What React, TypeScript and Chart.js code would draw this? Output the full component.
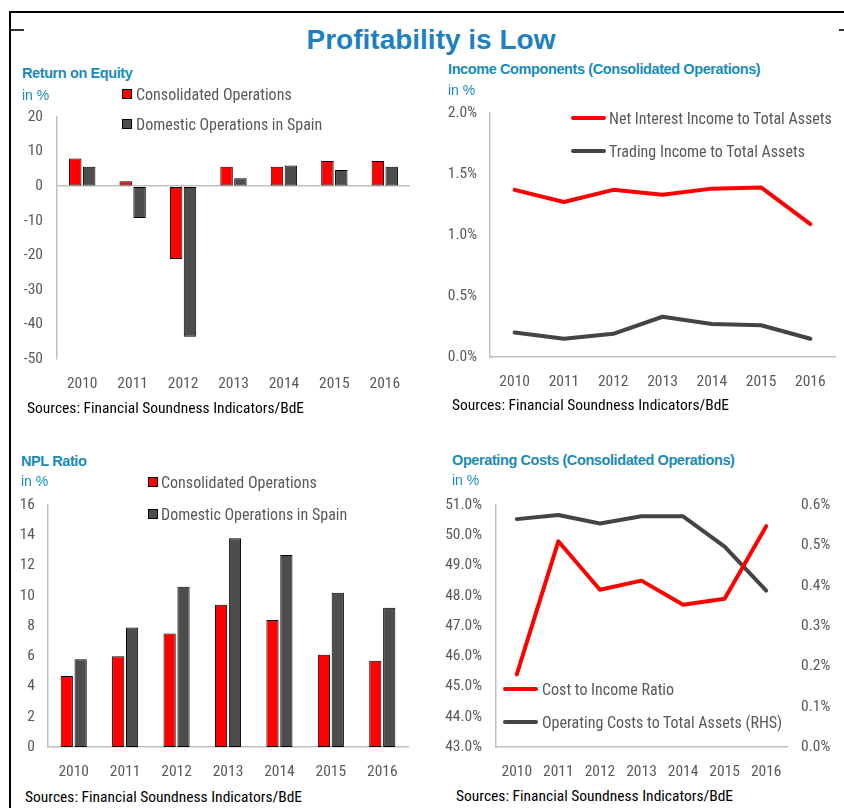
import React, { useEffect, useRef } from "react";
import { Chart, registerables } from "chart.js";

Chart.register(...registerables);

// ---------- data ----------
const years = ["2010", "2011", "2012", "2013", "2014", "2015", "2016"];

const roeConsolidated = [8.0, 1.4, -21.1, 5.6, 5.6, 7.3, 7.3];
const roeDomestic = [5.6, -9.2, -43.6, 2.3, 6.0, 4.7, 5.6];

const netInterestIncome = [1.37, 1.27, 1.37, 1.33, 1.38, 1.39, 1.09];
const tradingIncome = [0.2, 0.15, 0.19, 0.33, 0.27, 0.26, 0.15];

const nplConsolidated = [4.7, 6.0, 7.5, 9.4, 8.4, 6.1, 5.7];
const nplDomestic = [5.8, 7.9, 10.6, 13.8, 12.7, 10.2, 9.2];

const costToIncome = [45.4, 49.8, 48.2, 48.5, 47.7, 47.9, 50.3];
const opCostsToAssets = [0.565, 0.575, 0.554, 0.572, 0.572, 0.497, 0.388];

const seriesNames = {
  consolidated: "Consolidated Operations",
  domestic: "Domestic Operations in Spain",
  nii: "Net Interest Income to Total Assets",
  trading: "Trading Income to Total Assets",
  cir: "Cost to Income Ratio",
  opc: "Operating Costs to Total Assets (RHS)",
};

// ---------- styles ----------
const RED = "#FF0000";
const GRAY = "#4D4D4D";
const LINEGRAY = "#444444";
const AXIS = "#BFBFBF";
const TICK = "#595959";
const TITLE_BLUE = "#1F7FC3";
const SUB_BLUE = "#1A8BB8";
const NARROW = '"Liberation Sans Narrow", "Roboto Condensed", "Lato", sans-serif';
const SANS = '"Liberation Sans", Arial, sans-serif';

Chart.defaults.font.family = NARROW;
Chart.defaults.font.size = 15.5;
Chart.defaults.color = TICK;

type Box = { L: number; T: number; W: number; H: number; Y: number; X: number; pt: number; pr: number; R?: number };

function useChart(ref: React.RefObject<HTMLCanvasElement>, make: () => any) {
  useEffect(() => {
    if (!ref.current) return;
    const chart = new Chart(ref.current, make());
    return () => chart.destroy();
  }, []);
}

function fixW(w: number) {
  return (s: any) => {
    s.width = w;
  };
}
function fixH(h: number) {
  return (s: any) => {
    s.height = h;
  };
}

function ChartBox({ box, config }: { box: Box; config: () => any }) {
  const ref = useRef<HTMLCanvasElement>(null);
  useChart(ref, config);
  return (
    <div style={{ position: "absolute", left: box.L, top: box.T, width: box.W, height: box.H }}>
      <canvas ref={ref} width={box.W} height={box.H} style={{ display: "block" }} />
    </div>
  );
}

function Txt({ x, y, children, style }: { x: number; y: number; children: any; style?: any }) {
  return (
    <div
      style={{
        position: "absolute",
        left: x,
        top: y,
        transform: "translateY(-50%)",
        whiteSpace: "nowrap",
        lineHeight: 1,
        ...style,
      }}
    >
      {children}
    </div>
  );
}

const subTitle = { fontFamily: SANS, fontWeight: 700, fontSize: 14.5, color: SUB_BLUE, letterSpacing: -0.4 };
const inPct = { fontFamily: SANS, fontSize: 14, color: SUB_BLUE };
const legTxt = { fontFamily: NARROW, fontSize: 16, color: TICK };
const srcTxt = { fontFamily: NARROW, fontSize: 15.5, color: "#000" };

function Square({ x, y, color }: { x: number; y: number; color: string }) {
  return (
    <div
      style={{
        position: "absolute",
        left: x,
        top: y - 5,
        width: 8,
        height: 8,
        background: color,
        border: "1px solid #000",
      }}
    />
  );
}
function LineSw({ x, y, w, color }: { x: number; y: number; w: number; color: string }) {
  return (
    <div
      style={{
        position: "absolute",
        left: x,
        top: y - 2,
        width: w,
        height: 4,
        borderRadius: 2,
        background: color,
      }}
    />
  );
}

// ---------- chart configs ----------
function barConfig(box: Box, a: number[], b: number[], min: number, max: number, step: number, yPad: number, zeroLine: boolean, cp: number, bp: number) {
  return () => ({
    type: "bar",
    data: {
      labels: years,
      datasets: [
        { label: seriesNames.consolidated, data: a, backgroundColor: RED, borderColor: "#000", borderWidth: 1, borderSkipped: false, categoryPercentage: cp, barPercentage: bp },
        { label: seriesNames.domestic, data: b, backgroundColor: GRAY, borderColor: "#000", borderWidth: 1, borderSkipped: false, categoryPercentage: cp, barPercentage: bp },
      ],
    },
    options: {
      animation: false,
      responsive: false,
      layout: { padding: { top: box.pt, right: box.pr, left: 0, bottom: 0 } },
      plugins: { legend: { display: false }, tooltip: { enabled: false } },
      scales: {
        x: {
          grid: { display: false, drawTicks: false },
          border: { display: !zeroLine, color: AXIS, width: 1.5 },
          ticks: { padding: 16, color: TICK },
          afterFit: fixH(box.X),
        },
        y: {
          min,
          max,
          ticks: { stepSize: step, padding: yPad, color: TICK },
          grid: {
            display: zeroLine,
            drawTicks: false,
            lineWidth: 1.5,
            color: (ctx: any) => (ctx.tick && ctx.tick.value === 0 ? AXIS : "rgba(0,0,0,0)"),
          },
          border: { display: true, color: AXIS, width: 1.5 },
          afterFit: fixW(box.Y),
        },
      },
    },
  });
}

// chart areas: panel1 57..410 x 117..359 ; panel2 490..835 x 113..357
// panel3 48..408 x 505..747 ; panel4 496..787 x 505..747
const box1: Box = { L: 0, T: 90, W: 420, H: 310, Y: 57, X: 41, pt: 27, pr: 10 };
const box2: Box = { L: 420, T: 86, W: 424, H: 314, Y: 70, X: 43, pt: 27, pr: 9 };
const box3: Box = { L: 0, T: 478, W: 420, H: 302, Y: 48, X: 33, pt: 27, pr: 12 };
const box4: Box = { L: 420, T: 478, W: 424, H: 302, Y: 76, X: 33, pt: 27, pr: 0, R: 57 };

const cfg1 = barConfig(box1, roeConsolidated, roeDomestic, -50, 20, 10, 14, true, 0.55, 0.9);
const cfg3 = barConfig(box3, nplConsolidated, nplDomestic, 0, 16, 2, 13, false, 0.54, 0.88);

const lineDs = (label: string, data: number[], color: string, axis?: string) => ({
  label,
  data,
  borderColor: color,
  backgroundColor: color,
  borderWidth: 4,
  pointRadius: 0,
  tension: 0,
  borderJoinStyle: "round",
  borderCapStyle: "round",
  ...(axis ? { yAxisID: axis } : {}),
});

const cfg2 = () => ({
  type: "line",
  data: {
    labels: years,
    datasets: [lineDs(seriesNames.nii, netInterestIncome, RED), lineDs(seriesNames.trading, tradingIncome, LINEGRAY)],
  },
  options: {
    animation: false,
    responsive: false,
    layout: { padding: { top: box2.pt, right: box2.pr, left: 0, bottom: 0 } },
    plugins: { legend: { display: false }, tooltip: { enabled: false } },
    scales: {
      x: {
        offset: true,
        grid: { display: false, drawTicks: false, offset: true },
        border: { display: true, color: AXIS, width: 1.5 },
        ticks: { padding: 16, color: TICK },
        afterFit: fixH(box2.X),
      },
      y: {
        min: 0,
        max: 2,
        ticks: { stepSize: 0.5, padding: 13, color: TICK, callback: (v: any) => Number(v).toFixed(1) + "%" },
        grid: { display: false, drawTicks: false },
        border: { display: true, color: AXIS, width: 1.5 },
        afterFit: fixW(box2.Y),
      },
    },
  },
});

const cfg4 = () => ({
  type: "line",
  data: {
    labels: years,
    datasets: [lineDs(seriesNames.cir, costToIncome, RED, "y"), lineDs(seriesNames.opc, opCostsToAssets, LINEGRAY, "y1")],
  },
  options: {
    animation: false,
    responsive: false,
    layout: { padding: { top: box4.pt, right: box4.pr, left: 0, bottom: 0 } },
    plugins: { legend: { display: false }, tooltip: { enabled: false } },
    scales: {
      x: {
        offset: true,
        grid: { display: false, drawTicks: false, offset: true },
        border: { display: true, color: AXIS, width: 1.5 },
        ticks: { padding: 16, color: TICK },
        afterFit: fixH(box4.X),
      },
      y: {
        position: "left",
        min: 43,
        max: 51,
        ticks: { stepSize: 1, padding: 14, color: TICK, callback: (v: any) => Number(v).toFixed(1) + "%" },
        grid: { display: false, drawTicks: false },
        border: { display: true, color: AXIS, width: 1.5 },
        afterFit: fixW(box4.Y),
      },
      y1: {
        position: "right",
        min: 0,
        max: 0.6,
        ticks: { stepSize: 0.1, padding: 14, color: TICK, callback: (v: any) => Number(v).toFixed(1) + "%" },
        grid: { display: false, drawTicks: false },
        border: { display: false },
        afterFit: fixW(box4.R as number),
      },
    },
  },
});

const SOURCE = "Sources: Financial Soundness Indicators/BdE";

export default function App() {
  useEffect(() => {
    document.body.style.margin = "0";
  }, []);
  return (
    <div style={{ position: "relative", width: 844, height: 808, background: "#fff", overflow: "hidden" }}>
      {/* frame */}
      <div style={{ position: "absolute", left: 9, top: 11, width: 835, height: 2, background: "#000" }} />
      <div style={{ position: "absolute", left: 9, top: 11, width: 2, height: 797, background: "#000" }} />
      <div style={{ position: "absolute", left: 11, top: 29, width: 13, height: 2, background: "#333" }} />
      <div style={{ position: "absolute", left: 839, top: 29, width: 5, height: 2, background: "#333" }} />

      <div
        style={{
          position: "absolute",
          left: 0,
          width: 862,
          top: 40,
          transform: "translateY(-50%)",
          textAlign: "center",
          fontFamily: SANS,
          fontWeight: 700,
          fontSize: 28,
          color: TITLE_BLUE,
          lineHeight: 1,
        }}
      >
        Profitability is Low
      </div>

      {/* Panel 1 */}
      <ChartBox box={box1} config={cfg1} />
      <Txt x={22} y={73} style={subTitle}>Return on Equity</Txt>
      <Txt x={22} y={95} style={inPct}>in %</Txt>
      <Square x={122} y={94} color={RED} />
      <Txt x={136} y={95} style={legTxt}>{seriesNames.consolidated}</Txt>
      <Square x={122} y={124} color={GRAY} />
      <Txt x={136} y={125} style={legTxt}>{seriesNames.domestic}</Txt>
      <Txt x={27} y={409} style={srcTxt}>{SOURCE}</Txt>

      {/* Panel 2 */}
      <ChartBox box={box2} config={cfg2} />
      <Txt x={448} y={69} style={subTitle}>Income Components (Consolidated Operations)</Txt>
      <Txt x={448} y={90} style={inPct}>in %</Txt>
      <LineSw x={571} y={118} w={35} color={RED} />
      <Txt x={609} y={119} style={legTxt}>{seriesNames.nii}</Txt>
      <LineSw x={571} y={151} w={35} color={LINEGRAY} />
      <Txt x={609} y={152} style={legTxt}>{seriesNames.trading}</Txt>
      <Txt x={452} y={406} style={srcTxt}>{SOURCE}</Txt>

      {/* Panel 3 */}
      <ChartBox box={box3} config={cfg3} />
      <Txt x={21} y={461} style={subTitle}>NPL Ratio</Txt>
      <Txt x={21} y={481} style={inPct}>in %</Txt>
      <Square x={148} y={482} color={RED} />
      <Txt x={161} y={483} style={legTxt}>{seriesNames.consolidated}</Txt>
      <Square x={148} y={514} color={GRAY} />
      <Txt x={161} y={515} style={legTxt}>{seriesNames.domestic}</Txt>
      <Txt x={25} y={798} style={srcTxt}>{SOURCE}</Txt>

      {/* Panel 4 */}
      <ChartBox box={box4} config={cfg4} />
      <Txt x={452} y={460} style={subTitle}>Operating Costs (Consolidated Operations)</Txt>
      <Txt x={452} y={480} style={inPct}>in %</Txt>
      <LineSw x={503} y={689} w={35} color={RED} />
      <Txt x={542} y={690} style={legTxt}>{seriesNames.cir}</Txt>
      <LineSw x={503} y={722} w={35} color={LINEGRAY} />
      <Txt x={542} y={723} style={legTxt}>{seriesNames.opc}</Txt>
      <Txt x={456} y={797} style={srcTxt}>{SOURCE}</Txt>
    </div>
  );
}
